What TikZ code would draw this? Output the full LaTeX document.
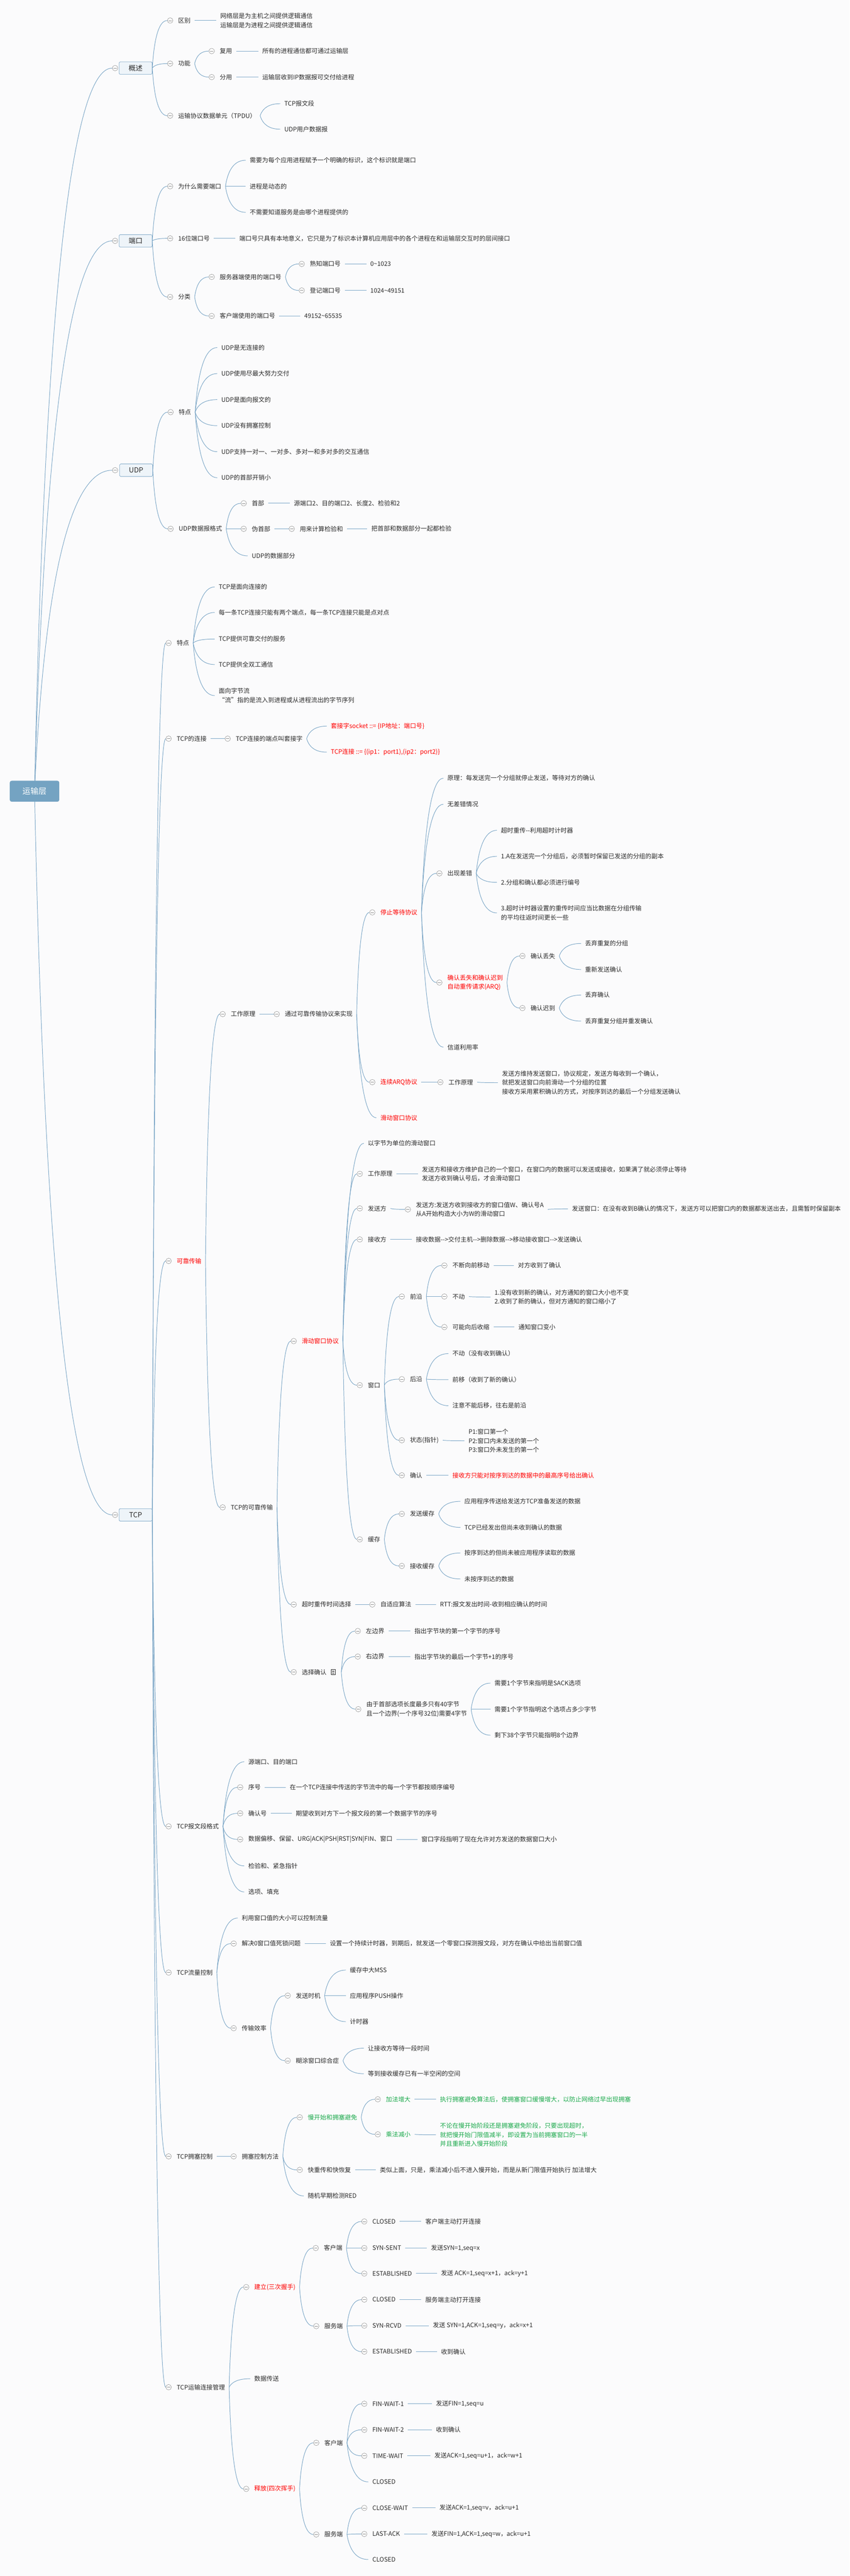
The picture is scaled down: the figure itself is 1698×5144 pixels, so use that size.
\documentclass[tikz,border=0pt]{standalone}
\usepackage{fontspec}
\setmainfont{Noto Sans CJK SC}
\usepackage{xcolor}
\usepackage{tikz}
\usetikzlibrary{calc, backgrounds}
\definecolor{Paper}{HTML}{FBFBFC}
\definecolor{LinkBlue}{HTML}{7DA7C7}
\definecolor{FoldGray}{HTML}{8C8C8C}
\definecolor{Ink}{HTML}{2B2B2B}
\definecolor{RootBlue}{HTML}{74A3C2}
\definecolor{BoxFill}{HTML}{EEF4F9}
\definecolor{MapRed}{HTML}{FF0000}
\definecolor{MapGreen}{HTML}{1BA94C}

\tikzset{
    txt/.style = {anchor = west, xshift = -8pt, inner xsep = 8pt, inner ysep = 2pt, text = Ink, align = left, font = \fontsize{12.3}{18}\selectfont},
    hot/.style = {text = MapRed},
    calm/.style = {text = MapGreen},
    fold/.style = {circle, draw = FoldGray, fill = white, line width = 0.6pt, minimum size = 11pt, inner sep = 0pt,
        path picture = {\draw[FoldGray, line width = 0.6pt] ([xshift = -3pt]path picture bounding box.center) -- ([xshift = 3pt]path picture bounding box.center);}},
    topicbox/.style = {draw = LinkBlue, fill = BoxFill, rounded corners = 2pt, line width = 0.8pt, minimum width = 66pt, minimum height = 25pt, text = Ink, font = \fontsize{14}{16}\selectfont},
    rootbox/.style = {fill = RootBlue, rounded corners = 4pt, minimum width = 99pt, minimum height = 42pt, text = white, font = \fontsize{16}{18}\selectfont},
    noteicon/.style = {draw = Ink, line width = 0.6pt, minimum width = 8pt, minimum height = 10pt, inner sep = 0pt, outer xsep = 12pt,
        path picture = {\foreach \k in {-2.5,0,2.5} \draw[Ink, line width = 0.5pt] ([xshift = -2pt, yshift = \k pt]path picture bounding box.center) -- ([xshift = 2pt, yshift = \k pt]path picture bounding box.center);}},
    link/.style = {draw = LinkBlue, line width = 1pt},
}

% [style]{name}{x}{y}{text}: fold circle + label
\newcommand\topic[5][]{%
    \node[fold] (#2-f) at ({#3-16},#4) {};
    \node[txt, #1] (#2) at (#3,#4) {#5};}

% {parent anchor}{children}
\newcommand\branches[2]{%
    \foreach \c in {#2}
        \draw[link] let \p1 = (#1), \p2 = (\c.west) in
            (\p1) .. controls ({\x1 + 0.13*(\x2 - \x1)}, {\y1 + 0.67*(\y2 - \y1)})
                      and ({\x2 - 0.53*(\x2 - \x1)}, \y2) .. (\p2);}

\begin{document}
\begin{tikzpicture}[x = 1pt, y = -1pt, line join = round, line cap = round]
    \useasboundingbox (0,0) rectangle (1698,5144);

    \node[rootbox] (root) at (69,1580) {运输层};

    % 概述
    \node[fold] (gs-f) at (230,136) {};
    \node[topicbox] (gs) at (271,136) {概述};
    \topic{gs1}{356}{41}{区别}
    \node[txt] (gs1a) at (440,41) {网络层是为主机之间提供逻辑通信\\运输层是为进程之间提供逻辑通信};
    \topic{gs2}{356}{127}{功能}
    \topic{gs2a}{439}{102}{复用}
    \node[txt] (gs2a1) at (524,102) {所有的进程通信都可通过运输层};
    \topic{gs2b}{439}{154}{分用}
    \node[txt] (gs2b1) at (524,154) {运输层收到IP数据报可交付给进程};
    \topic{gs3}{356}{231}{运输协议数据单元（TPDU）}
    \node[txt] (gs3a) at (568,207) {TCP报文段};
    \node[txt] (gs3b) at (568,258) {UDP用户数据报};

    % 端口
    \node[fold] (dk-f) at (230,481) {};
    \node[topicbox] (dk) at (271,481) {端口};
    \topic{dk1}{356}{372}{为什么需要端口}
    \node[txt] (dk1a) at (499,320) {需要为每个应用进程赋予一个明确的标识，这个标识就是端口};
    \node[txt] (dk1b) at (499,372) {进程是动态的};
    \node[txt] (dk1c) at (499,424) {不需要知道服务是由哪个进程提供的};
    \topic{dk2}{356}{476}{16位端口号}
    \node[txt] (dk2a) at (478,476) {端口号只具有本地意义，它只是为了标识本计算机应用层中的各个进程在和运输层交互时的层间接口};
    \topic{dk3}{356}{593}{分类}
    \topic{dk3a}{439}{553}{服务器端使用的端口号}
    \topic{dk3a1}{619}{527}{熟知端口号}
    \node[txt] (dk3a1a) at (740,527) {0\textasciitilde 1023};
    \topic{dk3a2}{619}{580}{登记端口号}
    \node[txt] (dk3a2a) at (740,580) {1024\textasciitilde 49151};
    \topic{dk3b}{439}{631}{客户端使用的端口号}
    \node[txt] (dk3b1) at (608,631) {49152\textasciitilde 65535};

    % UDP
    \node[fold] (udp-f) at (230,939) {};
    \node[topicbox] (udp) at (272,939) {UDP};
    \topic{udp1}{357}{823}{特点}
    \node[txt] (udp1a) at (442,694) {UDP是无连接的};
    \node[txt] (udp1b) at (442,746) {UDP使用尽最大努力交付};
    \node[txt] (udp1c) at (442,798) {UDP是面向报文的};
    \node[txt] (udp1d) at (442,850) {UDP没有拥塞控制};
    \node[txt] (udp1e) at (442,902) {UDP支持一对一、一对多、多对一和多对多的交互通信};
    \node[txt] (udp1f) at (442,954) {UDP的首部开销小};
    \topic{udp2}{357}{1056}{UDP数据报格式}
    \topic{udp2a}{503}{1005}{首部}
    \node[txt] (udp2a1) at (587,1005) {源端口2、目的端口2、长度2、检验和2};
    \topic{udp2b}{503}{1056}{伪首部}
    \topic{udp2b1}{599}{1056}{用来计算检验和}
    \node[txt] (udp2b1a) at (742,1056) {把首部和数据部分一起都检验};
    \node[txt] (udp2c) at (503,1110) {UDP的数据部分};

    % TCP
    \node[fold] (tcp-f) at (230,3025) {};
    \node[topicbox] (tcp) at (271,3025) {TCP};
    \topic{t1}{353}{1284}{特点}
    \node[txt] (t1a) at (437,1172) {TCP是面向连接的};
    \node[txt] (t1b) at (437,1223) {每一条TCP连接只能有两个端点，每一条TCP连接只能是点对点};
    \node[txt] (t1c) at (437,1276) {TCP提供可靠交付的服务};
    \node[txt] (t1d) at (437,1327) {TCP提供全双工通信};
    \node[txt] (t1e) at (437,1389) {面向字节流\\“流”指的是流入到进程或从进程流出的字节序列};
    \topic{t2}{353}{1475}{TCP的连接}
    \topic{t2a}{471}{1475}{TCP连接的端点叫套接字}
    \node[txt, hot] (t2a1) at (661,1450) {套接字socket ::= \{IP地址：端口号\}};
    \node[txt, hot] (t2a2) at (661,1502) {TCP连接 ::= \{(ip1：port1),(ip2：port2)\}};

    \topic[hot]{t3}{353}{2518}{可靠传输}
    \topic{t3a}{461}{2025}{工作原理}
    \topic{t3a1}{569}{2025}{通过可靠传输协议来实现}
    \topic[hot]{sw}{760}{1822}{停止等待协议}
    \node[txt] (sw1) at (894,1554) {原理：每发送完一个分组就停止发送，等待对方的确认};
    \node[txt] (sw2) at (894,1606) {无差错情况};
    \topic{sw3}{894}{1744}{出现差错}
    \node[txt] (sw3a) at (1001,1658) {超时重传-{}-利用超时计时器};
    \node[txt] (sw3b) at (1001,1710) {1.A在发送完一个分组后，必须暂时保留已发送的分组的副本};
    \node[txt] (sw3c) at (1001,1762) {2.分组和确认都必须进行编号};
    \node[txt] (sw3d) at (1001,1823) {3.超时计时器设置的重传时间应当比数据在分组传输\\的平均往返时间更长一些};
    \topic[hot]{sw4}{894}{1962}{确认丢失和确认迟到\\自动重传请求(ARQ)}
    \topic{sw4a}{1060}{1909}{确认丢失}
    \node[txt] (sw4a1) at (1169,1884) {丢弃重复的分组};
    \node[txt] (sw4a2) at (1169,1936) {重新发送确认};
    \topic{sw4b}{1060}{2013}{确认迟到}
    \node[txt] (sw4b1) at (1169,1987) {丢弃确认};
    \node[txt] (sw4b2) at (1169,2039) {丢弃重复分组并重发确认};
    \node[txt] (sw5) at (894,2091) {信道利用率};
    \topic[hot]{arq}{760}{2161}{连续ARQ协议}
    \topic{arq1}{896}{2161}{工作原理}
    \node[txt] (arq1a) at (1003,2162) {发送方维持发送窗口，协议规定，发送方每收到一个确认，\\就把发送窗口向前滑动一个分组的位置\\接收方采用累积确认的方式，对按序到达的最后一个分组发送确认};
    \node[txt, hot] (slw) at (760,2232) {滑动窗口协议};

    \topic{t3b}{461}{3010}{TCP的可靠传输}
    \topic[hot]{rw}{603}{2678}{滑动窗口协议}
    \node[txt] (rw1) at (735,2283) {以字节为单位的滑动窗口};
    \topic{rw2}{735}{2344}{工作原理}
    \node[txt] (rw2a) at (843,2344) {发送方和接收方维护自己的一个窗口，在窗口内的数据可以发送或接收，如果满了就必须停止等待\\发送方收到确认号后，才会滑动窗口};
    \topic{rw3}{735}{2413}{发送方}
    \topic{rw3a}{831}{2415}{发送方:发送方收到接收方的窗口值W、确认号A\\从A开始构造大小为W的滑动窗口}
    \node[txt] (rw3a1) at (1143,2414) {发送窗口：在没有收到B确认的情况下，发送方可以把窗口内的数据都发送出去，且需暂时保留副本};
    \topic{rw4}{735}{2475}{接收方}
    \node[txt] (rw4a) at (831,2475) {接收数据-{}->交付主机-{}->删除数据-{}->移动接收窗口-{}->发送确认};
    \topic{rw5}{735}{2766}{窗口}
    \topic{qy}{819}{2589}{前沿}
    \topic{qy1}{904}{2527}{不断向前移动}
    \node[txt] (qy1a) at (1035,2527) {对方收到了确认};
    \topic{qy2}{904}{2589}{不动}
    \node[txt] (qy2a) at (988,2590) {1.没有收到新的确认，对方通知的窗口大小也不变\\2.收到了新的确认，但对方通知的窗口缩小了};
    \topic{qy3}{904}{2650}{可能向后收缩}
    \node[txt] (qy3a) at (1036,2650) {通知窗口变小};
    \topic{hy}{819}{2754}{后沿}
    \node[txt] (hy1) at (904,2703) {不动（没有收到确认）};
    \node[txt] (hy2) at (904,2755) {前移（收到了新的确认）};
    \node[txt] (hy3) at (904,2807) {注意不能后移，往右是前沿};
    \topic{zt}{819}{2876}{状态(指针)}
    \node[txt] (zt1) at (936,2877) {P1:窗口第一个\\P2:窗口内未发送的第一个\\P3:窗口外未发生的第一个};
    \topic{qr}{819}{2946}{确认}
    \node[txt, hot] (qr1) at (904,2946) {接收方只能对按序到达的数据中的最高序号给出确认};
    \topic{rw6}{735}{3074}{缓存}
    \topic{fs}{819}{3023}{发送缓存}
    \node[txt] (fs1) at (928,2998) {应用程序传送给发送方TCP准备发送的数据};
    \node[txt] (fs2) at (928,3050) {TCP已经发出但尚未收到确认的数据};
    \topic{js}{819}{3127}{接收缓存}
    \node[txt] (js1) at (928,3101) {按序到达的但尚未被应用程序读取的数据};
    \node[txt] (js2) at (928,3153) {未按序到达的数据};
    \topic{cs}{603}{3204}{超时重传时间选择}
    \topic{cs1}{760}{3204}{自适应算法}
    \node[txt] (cs1a) at (879,3204) {RTT:报文发出时间-收到相应确认的时间};
    \topic{sack}{603}{3339}{选择确认}
    \node[noteicon] (sack-n) at (666,3339) {};
    \topic{sk1}{731}{3257}{左边界}
    \node[txt] (sk1a) at (828,3257) {指出字节块的第一个字节的序号};
    \topic{sk2}{731}{3308}{右边界}
    \node[txt] (sk2a) at (828,3308) {指出字节块的最后一个字节+1的序号};
    \topic{sk3}{732}{3413}{由于首部选项长度最多只有40字节\\且一个边界(一个序号32位)需要4字节}
    \node[txt] (sk3a) at (988,3361) {需要1个字节来指明是SACK选项};
    \node[txt] (sk3b) at (988,3413) {需要1个字节指明这个选项占多少字节};
    \node[txt] (sk3c) at (988,3465) {剩下38个字节只能指明8个边界};

    \topic{t4}{353}{3647}{TCP报文段格式}
    \node[txt] (t4a) at (496,3518) {源端口、目的端口};
    \topic{t4b}{496}{3569}{序号}
    \node[txt] (t4b1) at (579,3569) {在一个TCP连接中传送的字节流中的每一个字节都按顺序编号};
    \topic{t4c}{496}{3621}{确认号}
    \node[txt] (t4c1) at (591,3621) {期望收到对方下一个报文段的第一个数据字节的序号};
    \topic{t4d}{496}{3673}{数据偏移、保留、URG|ACK|PSH|RST|SYN|FIN、窗口}
    \node[txt] (t4d1) at (842,3673) {窗口字段指明了现在允许对方发送的数据窗口大小};
    \node[txt] (t4e) at (496,3726) {检验和、紧急指针};
    \node[txt] (t4f) at (496,3778) {选项、填充};

    \topic{t5}{353}{3939}{TCP流量控制}
    \node[txt] (t5a) at (483,3830) {利用窗口值的大小可以控制流量};
    \topic{t5b}{483}{3881}{解决0窗口值死锁问题}
    \node[txt] (t5b1) at (659,3881) {设置一个持续计时器，到期后，就发送一个零窗口探测报文段，对方在确认中给出当前窗口值};
    \topic{t5c}{483}{4050}{传输效率}
    \topic{fsj}{591}{3985}{发送时机}
    \node[txt] (fsj1) at (699,3934) {缓存中大MSS};
    \node[txt] (fsj2) at (699,3985) {应用程序PUSH操作};
    \node[txt] (fsj3) at (699,4037) {计时器};
    \topic{hc}{591}{4115}{糊涂窗口综合症}
    \node[txt] (hc1) at (735,4090) {让接收方等待一段时间};
    \node[txt] (hc2) at (735,4141) {等到接收缓存已有一半空闲的空间};

    \topic{t6}{353}{4306}{TCP拥塞控制}
    \topic{t6a}{483}{4306}{拥塞控制方法}
    \topic[calm]{mk}{615}{4228}{慢开始和拥塞避免}
    \topic[calm]{mk1}{771}{4192}{加法增大}
    \node[txt, calm] (mk1a) at (879,4192) {执行拥塞避免算法后，使拥塞窗口缓慢增大，以防止网络过早出现拥塞};
    \topic[calm]{mk2}{771}{4262}{乘法减小}
    \node[txt, calm] (mk2a) at (879,4263) {不论在慢开始阶段还是拥塞避免阶段，只要出现超时，\\就把慢开始门限值减半，即设置为当前拥塞窗口的一半\\并且重新进入慢开始阶段};
    \topic{kc}{615}{4333}{快重传和快恢复}
    \node[txt] (kc1) at (759,4333) {类似上面，只是，乘法减小后不进入慢开始，而是从新门限值开始执行 加法增大};
    \node[txt] (t6a3) at (615,4385) {随机早期检测RED};

    \topic{t7}{353}{4767}{TCP运输连接管理}
    \topic[hot]{jl}{508}{4567}{建立(三次握手)}
    \topic{jlc}{647}{4489}{客户端}
    \topic{jc1}{744}{4436}{CLOSED}
    \node[txt] (jc1a) at (850,4436) {客户端主动打开连接};
    \topic{jc2}{744}{4489}{SYN-SENT}
    \node[txt] (jc2a) at (861,4489) {发送SYN=1,seq=x};
    \topic{jc3}{744}{4540}{ESTABLISHED}
    \node[txt] (jc3a) at (881,4540) {发送 ACK=1,seq=x+1，ack=y+1};
    \topic{jls}{648}{4645}{服务端}
    \topic{jv1}{744}{4592}{CLOSED}
    \node[txt] (jv1a) at (850,4592) {服务端主动打开连接};
    \topic{jv2}{744}{4644}{SYN-RCVD}
    \node[txt] (jv2a) at (865,4644) {发送 SYN=1,ACK=1,seq=y，ack=x+1};
    \topic{jv3}{744}{4696}{ESTABLISHED}
    \node[txt] (jv3a) at (881,4696) {收到确认};
    \node[txt] (t7b) at (508,4750) {数据传送};
    \topic[hot]{sf}{508}{4970}{释放(四次挥手)}
    \topic{sfc}{648}{4878}{客户端}
    \topic{fc1}{744}{4800}{FIN-WAIT-1}
    \node[txt] (fc1a) at (871,4800) {发送FIN=1,seq=u};
    \topic{fc2}{744}{4852}{FIN-WAIT-2}
    \node[txt] (fc2a) at (871,4852) {收到确认};
    \topic{fc3}{744}{4904}{TIME-WAIT}
    \node[txt] (fc3a) at (868,4904) {发送ACK=1,seq=u+1，ack=w+1};
    \node[txt] (fc4) at (744,4956) {CLOSED};
    \topic{sfs}{648}{5061}{服务端}
    \topic{fv1}{744}{5008}{CLOSE-WAIT}
    \node[txt] (fv1a) at (878,5008) {发送ACK=1,seq=v，ack=u+1};
    \topic{fv2}{744}{5060}{LAST-ACK}
    \node[txt] (fv2a) at (862,5060) {发送FIN=1,ACK=1,seq=w，ack=u+1};
    \node[txt] (fv3) at (744,5111) {CLOSED};

    \begin{scope}[on background layer]
        \fill[Paper] (0,0) rectangle (1698,5144);
        \branches{root.center}{gs-f,dk-f,udp-f,tcp-f}
        % 概述
        \branches{gs.east}{gs1-f,gs2-f,gs3-f}
        \branches{gs1.east}{gs1a}
        \branches{gs2.east}{gs2a-f,gs2b-f}
        \branches{gs2a.east}{gs2a1}
        \branches{gs2b.east}{gs2b1}
        \branches{gs3.east}{gs3a,gs3b}
        % 端口
        \branches{dk.east}{dk1-f,dk2-f,dk3-f}
        \branches{dk1.east}{dk1a,dk1b,dk1c}
        \branches{dk2.east}{dk2a}
        \branches{dk3.east}{dk3a-f,dk3b-f}
        \branches{dk3a.east}{dk3a1-f,dk3a2-f}
        \branches{dk3a1.east}{dk3a1a}
        \branches{dk3a2.east}{dk3a2a}
        \branches{dk3b.east}{dk3b1}
        % UDP
        \branches{udp.east}{udp1-f,udp2-f}
        \branches{udp1.east}{udp1a,udp1b,udp1c,udp1d,udp1e,udp1f}
        \branches{udp2.east}{udp2a-f,udp2b-f,udp2c}
        \branches{udp2a.east}{udp2a1}
        \branches{udp2b.east}{udp2b1-f}
        \branches{udp2b1.east}{udp2b1a}
        % TCP
        \branches{tcp.east}{t1-f,t2-f,t3-f,t4-f,t5-f,t6-f,t7-f}
        \branches{t1.east}{t1a,t1b,t1c,t1d,t1e}
        \branches{t2.east}{t2a-f}
        \branches{t2a.east}{t2a1,t2a2}
        \branches{t3.east}{t3a-f,t3b-f}
        \branches{t3a.east}{t3a1-f}
        \branches{t3a1.east}{sw-f,arq-f,slw}
        \branches{sw.east}{sw1,sw2,sw3-f,sw4-f,sw5}
        \branches{sw3.east}{sw3a,sw3b,sw3c,sw3d}
        \branches{sw4.east}{sw4a-f,sw4b-f}
        \branches{sw4a.east}{sw4a1,sw4a2}
        \branches{sw4b.east}{sw4b1,sw4b2}
        \branches{arq.east}{arq1-f}
        \branches{arq1.east}{arq1a}
        \branches{t3b.east}{rw-f,cs-f,sack-f}
        \branches{rw.east}{rw1,rw2-f,rw3-f,rw4-f,rw5-f,rw6-f}
        \branches{rw2.east}{rw2a}
        \branches{rw3.east}{rw3a-f}
        \branches{rw3a.east}{rw3a1}
        \branches{rw4.east}{rw4a}
        \branches{rw5.east}{qy-f,hy-f,zt-f,qr-f}
        \branches{qy.east}{qy1-f,qy2-f,qy3-f}
        \branches{qy1.east}{qy1a}
        \branches{qy2.east}{qy2a}
        \branches{qy3.east}{qy3a}
        \branches{hy.east}{hy1,hy2,hy3}
        \branches{zt.east}{zt1}
        \branches{qr.east}{qr1}
        \branches{rw6.east}{fs-f,js-f}
        \branches{fs.east}{fs1,fs2}
        \branches{js.east}{js1,js2}
        \branches{cs.east}{cs1-f}
        \branches{cs1.east}{cs1a}
        \branches{sack-n.east}{sk1-f,sk2-f,sk3-f}
        \branches{sk1.east}{sk1a}
        \branches{sk2.east}{sk2a}
        \branches{sk3.east}{sk3a,sk3b,sk3c}
        \branches{t4.east}{t4a,t4b-f,t4c-f,t4d-f,t4e,t4f}
        \branches{t4b.east}{t4b1}
        \branches{t4c.east}{t4c1}
        \branches{t4d.east}{t4d1}
        \branches{t5.east}{t5a,t5b-f,t5c-f}
        \branches{t5b.east}{t5b1}
        \branches{t5c.east}{fsj-f,hc-f}
        \branches{fsj.east}{fsj1,fsj2,fsj3}
        \branches{hc.east}{hc1,hc2}
        \branches{t6.east}{t6a-f}
        \branches{t6a.east}{mk-f,kc-f,t6a3}
        \branches{mk.east}{mk1-f,mk2-f}
        \branches{mk1.east}{mk1a}
        \branches{mk2.east}{mk2a}
        \branches{kc.east}{kc1}
        \branches{t7.east}{jl-f,t7b,sf-f}
        \branches{jl.east}{jlc-f,jls-f}
        \branches{jlc.east}{jc1-f,jc2-f,jc3-f}
        \branches{jc1.east}{jc1a}
        \branches{jc2.east}{jc2a}
        \branches{jc3.east}{jc3a}
        \branches{jls.east}{jv1-f,jv2-f,jv3-f}
        \branches{jv1.east}{jv1a}
        \branches{jv2.east}{jv2a}
        \branches{jv3.east}{jv3a}
        \branches{sf.east}{sfc-f,sfs-f}
        \branches{sfc.east}{fc1-f,fc2-f,fc3-f,fc4}
        \branches{fc1.east}{fc1a}
        \branches{fc2.east}{fc2a}
        \branches{fc3.east}{fc3a}
        \branches{sfs.east}{fv1-f,fv2-f,fv3}
        \branches{fv1.east}{fv1a}
        \branches{fv2.east}{fv2a}
    \end{scope}
\end{tikzpicture}
\end{document}
